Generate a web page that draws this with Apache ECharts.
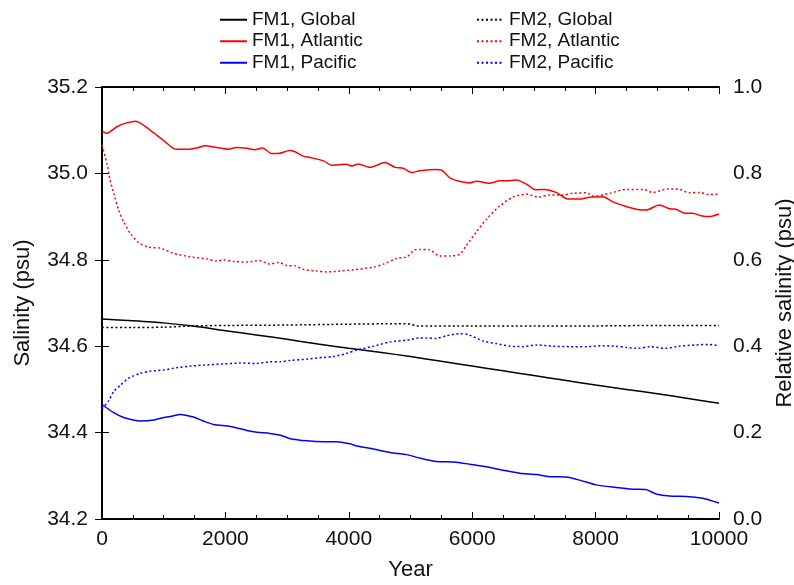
<!DOCTYPE html>
<html>
<head>
<meta charset="utf-8">
<script src="https://cdn.jsdelivr.net/npm/echarts@6/dist/echarts.min.js"></script>
<style>
html,body{margin:0;padding:0;background:#fff;}
#chart{width:794px;height:585px;}
</style>
</head>
<body>
<div id="chart"></div>
<script>
// ---- data (year, salinity psu) ----
const fm1Global = [[0,34.663],[500,34.659],[1000,34.654],[1500,34.646],[2000,34.636],[2500,34.626],[3000,34.616],[3500,34.605],[4000,34.595],[4500,34.586],[5000,34.576],[5500,34.565],[6000,34.554],[6500,34.543],[7000,34.532],[7500,34.521],[8000,34.510],[8500,34.500],[9000,34.490],[9500,34.479],[10000,34.468]];
const fm2Global = [[0,34.643],[500,34.643],[1000,34.644],[1500,34.647],[2000,34.648],[3000,34.649],[4000,34.651],[4800,34.652],[5000,34.651],[5100,34.647],[6000,34.647],[7000,34.647],[8000,34.647],[9000,34.648],[10000,34.648]];
const fm1Atlantic = [[0,35.097],[80,35.093],[240,35.108],[400,35.117],[550,35.121],[780,35.100],[1000,35.076],[1200,35.056],[1375,35.056],[1540,35.059],[1670,35.064],[1860,35.060],[2050,35.056],[2180,35.060],[2350,35.058],[2480,35.055],[2600,35.059],[2750,35.046],[2860,35.046],[3040,35.053],[3130,35.050],[3260,35.040],[3370,35.037],[3590,35.029],[3720,35.019],[3960,35.021],[4050,35.017],[4150,35.022],[4340,35.014],[4590,35.025],[4750,35.014],[4880,35.012],[5020,35.002],[5150,35.006],[5420,35.009],[5500,35.008],[5660,34.988],[5960,34.978],[6070,34.982],[6280,34.977],[6450,34.983],[6610,34.983],[6720,34.985],[6880,34.975],[7030,34.962],[7170,34.963],[7360,34.956],[7550,34.941],[7770,34.941],[7900,34.945],[8120,34.946],[8280,34.934],[8440,34.926],[8660,34.917],[8820,34.915],[9030,34.927],[9200,34.918],[9300,34.917],[9440,34.908],[9570,34.908],[9710,34.902],[9840,34.900],[10000,34.906]];
const fm2Atlantic = [[0,35.065],[80,35.023],[130,34.985],[190,34.954],[270,34.915],[350,34.888],[460,34.861],[590,34.840],[760,34.829],[940,34.827],[1160,34.815],[1430,34.807],[1700,34.802],[1860,34.797],[1970,34.800],[2130,34.796],[2350,34.795],[2560,34.798],[2720,34.790],[2860,34.794],[2990,34.787],[3130,34.786],[3260,34.778],[3480,34.774],[3640,34.772],[3860,34.774],[4070,34.777],[4400,34.783],[4560,34.790],[4770,34.803],[4940,34.807],[5070,34.823],[5150,34.824],[5310,34.823],[5470,34.809],[5640,34.809],[5800,34.813],[5910,34.834],[6070,34.865],[6230,34.894],[6450,34.925],[6660,34.945],[6880,34.952],[7070,34.945],[7250,34.950],[7470,34.950],[7630,34.954],[7850,34.955],[7980,34.947],[8230,34.954],[8500,34.963],[8770,34.963],[8930,34.956],[9170,34.964],[9360,34.963],[9520,34.955],[9680,34.956],[9840,34.951],[10000,34.952]];
const fm1Pacific = [[0,34.465],[190,34.446],[350,34.435],[620,34.427],[840,34.429],[1000,34.435],[1130,34.438],[1270,34.442],[1480,34.436],[1640,34.427],[1810,34.419],[2080,34.414],[2350,34.405],[2510,34.401],[2720,34.398],[2890,34.394],[3050,34.386],[3320,34.381],[3590,34.379],[3800,34.379],[4020,34.374],[4130,34.369],[4400,34.362],[4670,34.354],[4940,34.349],[5150,34.341],[5420,34.333],[5690,34.332],[5960,34.327],[6230,34.321],[6500,34.313],[6770,34.306],[7040,34.303],[7250,34.298],[7520,34.297],[7740,34.290],[8010,34.279],[8330,34.273],[8600,34.269],[8820,34.268],[8980,34.258],[9200,34.253],[9470,34.252],[9740,34.248],[9840,34.244],[10000,34.237]];
const fm2Pacific = [[0,34.455],[110,34.474],[190,34.495],[300,34.510],[430,34.526],[620,34.537],[780,34.542],[1000,34.545],[1210,34.550],[1430,34.554],[1640,34.556],[1970,34.559],[2240,34.561],[2510,34.560],[2720,34.564],[2890,34.564],[3050,34.567],[3320,34.570],[3590,34.574],[3750,34.576],[3960,34.583],[4130,34.591],[4400,34.600],[4670,34.610],[4940,34.614],[5150,34.619],[5260,34.619],[5420,34.618],[5580,34.624],[5800,34.629],[5930,34.627],[6180,34.612],[6390,34.606],[6610,34.600],[6820,34.599],[7040,34.603],[7310,34.600],[7580,34.599],[7850,34.599],[8120,34.601],[8330,34.600],[8500,34.597],[8710,34.595],[8870,34.599],[9140,34.595],[9360,34.600],[9630,34.603],[9840,34.604],[10000,34.601]];

const seriesNames = ['FM1, Global','FM1, Atlantic','FM1, Pacific','FM2, Global','FM2, Atlantic','FM2, Pacific'];
const seriesData = [fm1Global, fm1Atlantic, fm1Pacific, fm2Global, fm2Atlantic, fm2Pacific];
const seriesColors = ['#000000','#ff0000','#0000ff','#000000','#ff0000','#0000ff'];
const seriesDotted = [false,false,false,true,true,true];

const FONT = '"Liberation Sans", Arial, sans-serif';
const TXT = '#111';

const chart = echarts.init(document.getElementById('chart'), null, {renderer:'canvas'});

const axisCommon = {
  axisLine: {show:true, lineStyle:{color:'#000', width:2}},
  splitLine: {show:false},
  axisLabel: {color:TXT, fontSize:21, fontFamily:FONT},
  nameTextStyle: {color:TXT, fontSize:22, fontFamily:FONT}
};

const legendCommon = {
  orient:'vertical', top:10, padding:0, itemWidth:27, itemHeight:10, itemGap:2,
  itemStyle:{opacity:0, color:'rgba(0,0,0,0)', borderColor:'rgba(0,0,0,0)', borderWidth:0},
  textStyle:{color:TXT, fontSize:19, fontFamily:FONT, lineHeight:19.5}
};

const option = {
  backgroundColor:'#fff',
  animation:false,
  grid:{left:102, right:75, top:87, bottom:66, outerBoundsMode:'none', containLabel:false},
  legend:[
    Object.assign({}, legendCommon, {data:seriesNames.slice(0,3), left:219}),
    Object.assign({}, legendCommon, {data:seriesNames.slice(3), left:476})
  ],
  xAxis:[
    Object.assign({}, axisCommon, {
      type:'value', min:0, max:10000, interval:2000, position:'bottom',
      name:'Year', nameLocation:'middle', nameGap:40,
      axisTick:{show:true, inside:true, length:7, lineStyle:{color:'#000', width:1}},
      minorTick:{show:true, splitNumber:4, length:4, lineStyle:{color:'#000', width:1}},
      axisLabel:{color:TXT, fontSize:21, fontFamily:FONT, margin:10, formatter:v=>String(v)}
    }),
    Object.assign({}, axisCommon, {
      type:'value', min:0, max:10000, interval:2000, position:'top',
      axisTick:{show:true, inside:true, length:7, lineStyle:{color:'#000', width:1}},
      minorTick:{show:true, splitNumber:4, length:4, lineStyle:{color:'#000', width:1}},
      axisLabel:{show:false}
    })
  ],
  yAxis:[
    Object.assign({}, axisCommon, {
      type:'value', min:34.2, max:35.2, interval:0.2, position:'left',
      name:'Salinity (psu)', nameLocation:'middle', nameGap:68, nameRotate:90,
      axisTick:{show:true, inside:true, length:7, lineStyle:{color:'#000', width:1}},
      axisLabel:{color:TXT, fontSize:21, fontFamily:FONT, margin:14, formatter:v=>v.toFixed(1)}
    }),
    Object.assign({}, axisCommon, {
      type:'value', min:0, max:1, interval:0.2, position:'right',
      name:'Relative salinity (psu)', nameLocation:'middle', nameGap:55, nameRotate:90,
      axisTick:{show:true, inside:true, length:7, lineStyle:{color:'#000', width:1}},
      axisLabel:{color:TXT, fontSize:21, fontFamily:FONT, margin:14, formatter:v=>v.toFixed(1)}
    })
  ],
  series: seriesNames.map((n,i)=>({
    name:n, type:'line', xAxisIndex:0, yAxisIndex:0,
    data:seriesData[i], symbol:'none', smooth:0.25,
    color:seriesColors[i],
    lineStyle:{color:seriesColors[i], width:1.5, type: seriesDotted[i] ? [2,2.5] : 'solid'}
  }))
};
chart.setOption(option);
</script>
</body>
</html>
